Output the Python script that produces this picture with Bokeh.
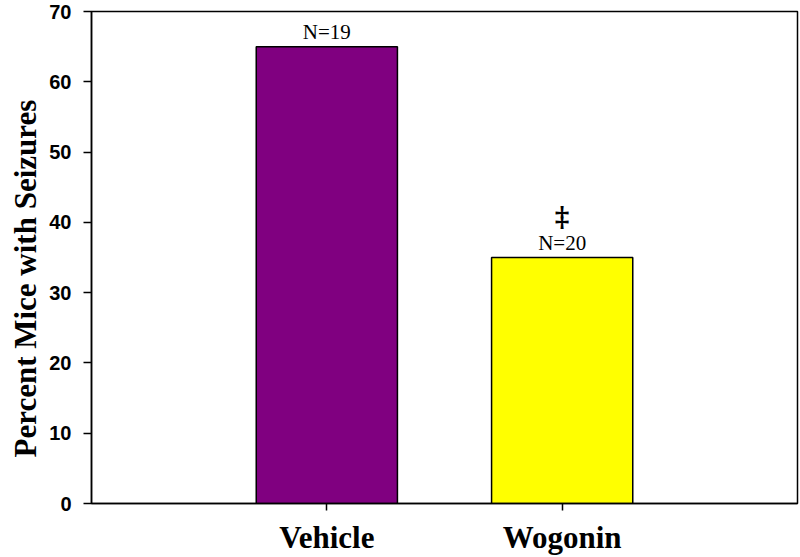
from bokeh.plotting import figure
from bokeh.models import FixedTicker, Range1d, ColumnDataSource, Title
from bokeh.core.properties import value
from bokeh.embed import file_html
from bokeh.resources import INLINE

categories = ["Vehicle", "Wogonin"]
percent = [65, 35]
n_labels = ["N=19", "N=20"]
bar_colors = ["#800080", "#FFFF00"]
positions = [1, 2]
y_ticks = [0, 10, 20, 30, 40, 50, 60, 70]
y_title = "Percent Mice with Seizures"

p = figure(width=800, height=557, output_backend="svg", toolbar_location=None,
           x_range=Range1d(0.0, 3.0), y_range=Range1d(0, 70),
           min_border_left=91, min_border_right=3, min_border_top=11, min_border_bottom=54)

src = ColumnDataSource(dict(x=positions, top=percent, color=bar_colors, label=n_labels))
p.vbar(x="x", top="top", width=0.6, bottom=0, fill_color="color",
       line_color="black", line_width=1.5, source=src)

p.text(x="x", y="top", text="label", source=src, text_align="center",
       text_baseline="bottom", y_offset=-3, text_font=value("Liberation Serif"),
       text_font_size="21px", text_color="black")

p.text(x=[positions[1]], y=[percent[1]], text=["\u2021"], text_align="center",
       text_baseline="bottom", y_offset=-24, text_font=value("DejaVu Serif"),
       text_font_style="bold", text_font_size="28px", text_color="black")

p.xgrid.visible = False
p.ygrid.visible = False
p.outline_line_color = "black"
p.outline_line_width = 1.5
p.outline_line_alpha = 1

p.xaxis.ticker = FixedTicker(ticks=positions)
p.xaxis.major_label_overrides = {pos: c for pos, c in zip(positions, categories)}
p.xaxis.major_label_text_font = "Liberation Serif"
p.xaxis.major_label_text_font_style = "bold"
p.xaxis.major_label_text_font_size = "31px"
p.xaxis.major_label_text_color = "black"
p.xaxis.major_label_standoff = 9
p.xaxis.major_tick_out = 7
p.xaxis.major_tick_in = 0
p.xaxis.minor_tick_line_color = None

p.yaxis.ticker = FixedTicker(ticks=y_ticks)
p.yaxis.major_label_text_font = "Liberation Sans"
p.yaxis.major_label_text_font_style = "bold"
p.yaxis.major_label_text_font_size = "20px"
p.yaxis.major_label_text_color = "black"
p.yaxis.major_label_standoff = 12
p.yaxis.major_tick_out = 8
p.yaxis.major_tick_in = 0
p.yaxis.minor_tick_line_color = None

p.add_layout(Title(text=y_title, align="left", offset=46, standoff=8,
                   text_font="Liberation Serif", text_font_style="bold",
                   text_font_size="31px", text_color="black"), "left")

for ax in (p.xaxis, p.yaxis):
    ax.axis_line_color = "black"
    ax.axis_line_width = 1.5
    ax.major_tick_line_color = "black"
    ax.major_tick_line_width = 1.5

open("out.html", "w").write(file_html(p, INLINE))
